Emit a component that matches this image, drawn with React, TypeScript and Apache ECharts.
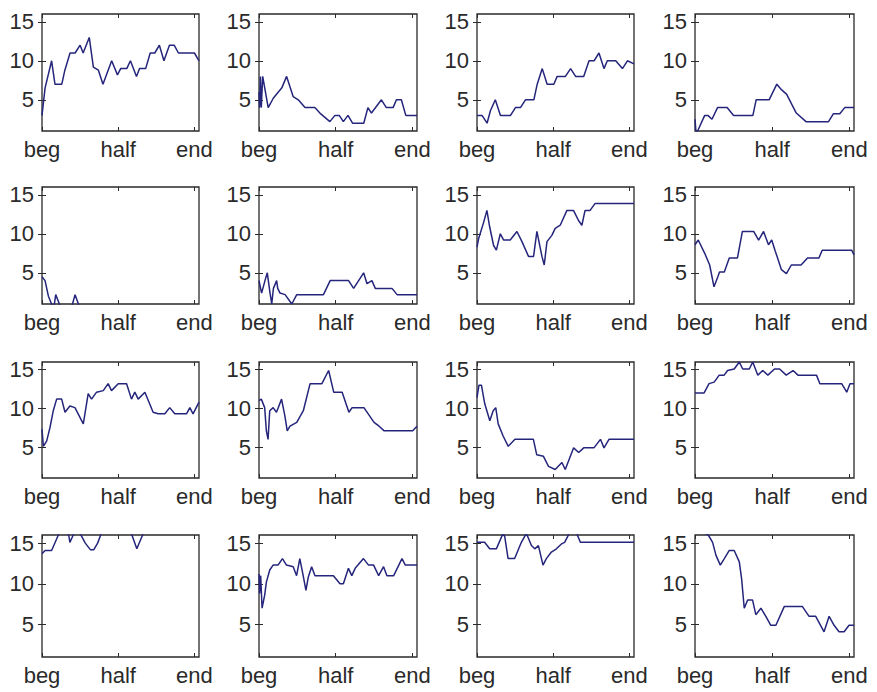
import React, { useEffect, useRef } from 'react';
import * as echarts from 'echarts';

// Each trace is a list of [time index, value] points; time runs 0..103.
const trace1 = [[0,3],[2,6.5],[6.3,10],[8.5,7],[13,7],[15,8.8],[18.4,11],[21.7,11],[25,12],[27,11],[31,13],[33.7,9.2],[37,8.8],[40,7],[45.7,10],[49.5,8.2],[51.6,9],[55.6,9],[58,10],[62,8],[64,9],[68,9],[71,11],[74,11],[77,12],[80,10],[83.6,12],[86.7,12],[89.5,11],[100,11],[103,10]];
const trace2 = [[0,6],[0.4,4],[0.9,8],[1.5,4],[2.4,8],[6,4],[9.3,5.2],[12.6,6],[14.8,6.5],[18,8],[22.3,5.4],[25.6,5],[30,4],[36.4,4],[39.7,3.3],[46.2,2.2],[49.5,3],[52.3,3],[55,2.2],[58,3],[61,2],[68.3,2],[71,4],[73.3,3.3],[79.8,5],[83,4],[87.4,4],[89.6,5],[92.8,5],[95.7,3],[103,3]];
const trace3 = [[0,3],[3.3,3],[6.6,2],[8.8,3.6],[12,5],[15.4,3],[22,3],[25.2,4],[28.5,4],[31.8,5],[37.3,5],[39.5,7],[42.8,9],[46,7],[50.4,7],[52.6,8],[58,8],[61.4,9],[64.7,8],[70,8],[73.5,10],[76.8,10],[80,11],[83.3,9],[85.5,10],[91,10],[95.4,9],[98.7,10],[103,9.6]];
const trace4 = [[0,2.5],[0.6,1],[1.7,1],[6.3,3],[8.3,3],[11,2.5],[14.6,4],[20.8,4],[25,3],[37.5,3],[39.6,5],[48,5],[53,7],[56,6.3],[59.4,5.7],[65.6,3.3],[71.9,2.2],[86.5,2.2],[89.6,3.2],[93.8,3.2],[97,4],[103,4]];
const trace5 = [[0,4.5],[2,4],[4.2,2],[6.3,1],[7.4,0],[9,2.2],[11.4,1],[12.5,0],[18.4,0],[20,1],[21.7,2.2],[23.9,1],[25,0],[103,0]];
const trace6 = [[0,4],[1.7,2.4],[3.9,4],[5.4,5],[7.2,2.4],[8.3,1],[9.4,3],[11.5,4],[12.2,3],[13.7,2.4],[17,2.2],[21.4,1],[24.6,2.2],[42,2.2],[46.4,4],[58.4,4],[61.7,3],[68.2,5],[70.4,3.6],[73.6,4],[75.8,3],[86.7,3],[90,2.2],[103,2.2]];
const trace7 = [[0,8.3],[1.1,9.4],[4.4,11.5],[6.5,13],[8.3,10.9],[10.9,8.5],[12.7,7.9],[15.3,10],[17.5,9.2],[21.8,9.2],[26.2,10.3],[29.5,9],[33.8,7.1],[37.1,7.1],[39.3,10.3],[42.6,7.1],[44.1,6],[45.9,9],[49.1,9.8],[51.3,10.7],[54.6,11.1],[59,13],[63.3,13],[66.6,11.7],[68.8,11.1],[70.9,13],[74.2,13],[77.5,13.9],[103,13.9]];
const trace8 = [[0,8.6],[2.1,9.2],[6.3,7.5],[9.5,6],[12.3,3.2],[14.8,4.5],[15.9,5.1],[19,5.1],[22.2,6.9],[27.5,6.9],[30.7,10.3],[38,10.3],[41.2,9.2],[44.4,10.3],[47.6,8.6],[49.7,9.2],[51.8,7.9],[56,5.4],[59.2,4.9],[62.4,6],[68.7,6],[72.9,6.9],[80.3,6.9],[82.4,7.9],[101.5,7.9],[103,7.3]];
const trace9 = [[0,7.3],[0.9,5.1],[3.1,5.8],[5.2,7.5],[7.4,9.7],[9.6,11.2],[12.9,11.2],[15.1,9.5],[18.3,10.3],[21.6,10.1],[27.1,8],[30.3,11.9],[32.5,11.2],[35.8,12.1],[40.2,12.3],[43.4,13.2],[45.6,12.3],[50,13.2],[55.5,13.2],[58.7,11.2],[60.9,12.1],[63.1,11.2],[67.5,12.1],[72.9,9.5],[76.2,9.3],[80.6,9.3],[83.8,10.1],[87.1,9.3],[94.8,9.3],[97,10.1],[99.1,9.3],[103,10.8]];
const trace10 = [[0,11],[1.5,11.2],[3.7,10.1],[4.8,7.1],[5.9,6],[7,9.7],[9.2,10.1],[11.4,9.5],[14.7,11.2],[16.9,9],[18.4,7.1],[20.2,7.7],[24.6,8.2],[28.9,9.7],[33.3,13.2],[41,13.2],[45.4,14.9],[48.7,12.1],[54.2,12.1],[58.6,9.5],[60.7,10.1],[68.4,10.1],[75,8.2],[78.3,7.7],[81.6,7.1],[100.2,7.1],[103,7.7]];
const trace11 = [[0,11.4],[1.3,13],[2.9,13],[5.1,10.6],[8.4,8.4],[10.6,9.7],[12.3,10.1],[13.9,8],[17.2,6.4],[20.5,5.1],[24.9,6],[37,6],[39.2,4],[43.6,3.8],[46.9,2.5],[51.3,2.1],[55.7,3],[57.9,2.1],[63.4,4.9],[66.7,4.3],[70,4.9],[76.7,4.9],[81,6],[83.3,4.9],[86.6,6],[103,6]];
const trace12 = [[0,12],[5.9,12],[9.1,13.2],[12.4,13.4],[15.7,14.3],[18.9,14.3],[21.1,14.9],[25.4,15.1],[28.7,16],[30.9,15.1],[35.2,15.1],[37.4,16],[40.7,14.3],[43.9,14.9],[47.2,14.3],[51.5,15.1],[54.8,15.1],[59.1,14.3],[63.5,14.9],[66.7,14.3],[78.7,14.3],[80.9,13.2],[95,13.2],[98.3,12.1],[100.4,13.2],[103,13.2]];
const trace13 = [[0,13.7],[2,14.1],[6.3,14.1],[9.6,15.5],[11.8,16.5],[15,16.5],[17.5,16],[18.3,15.1],[20.5,16],[22,16.5],[25,16.2],[28.4,15],[31.7,14.2],[34,14.2],[36.5,15],[39.5,16.5],[57,16.5],[59,16],[62.2,14.3],[66,16],[68,17],[103,17]];
const trace14 = [[0,11.2],[0.4,8.8],[1.1,11],[2,7],[3.7,8.6],[4.8,10.2],[7,11.7],[9.2,12.3],[12.4,12.3],[15.3,13.1],[17.9,12.3],[22.3,12.1],[24.5,11],[26.6,13.1],[28.8,11],[30.6,9.2],[32.1,10.8],[34.3,12.1],[36.5,11],[48.5,11],[52.8,10],[55,10],[58.3,11.9],[60.5,11],[62.7,11.9],[68.1,13.1],[71.4,12.3],[74.7,12.3],[78,11],[81.2,12.1],[83.4,11],[87.8,11],[93.2,13.1],[95.4,12.3],[103,12.3]];
const trace15 = [[0,15.1],[5,15.1],[8.3,14.3],[12.7,14.3],[17.1,16.2],[18.2,15.8],[20.4,13.1],[24.7,13.1],[29.1,15.1],[32.4,16.2],[35.7,14.7],[37.9,14.3],[40.3,14.7],[43.3,12.3],[45.5,13.1],[48.8,13.9],[52.1,14.3],[55.4,14.9],[57.5,15.1],[60.8,16.3],[65.2,16.3],[67.8,15.1],[103,15.1]];
const trace16 = [[0,16.8],[8.6,16],[11.4,15.1],[13.6,13.5],[16.4,12.3],[19,13.1],[22.2,14.1],[25.4,14.1],[28.7,12.7],[30.2,10.6],[31.9,7],[34.1,8],[37.3,8],[39.4,6.2],[42.7,7],[45.9,6],[49.1,4.9],[52.4,4.9],[57.8,7.2],[69.6,7.2],[73.9,6],[78.2,6],[83.6,4.1],[86.9,6],[90.1,4.9],[93.3,4.1],[96.6,4.1],[99.8,4.9],[103,4.9]];

const TRACES = [
  trace1, trace2, trace3, trace4,
  trace5, trace6, trace7, trace8,
  trace9, trace10, trace11, trace12,
  trace13, trace14, trace15, trace16,
];

const X_TICKS = [0, 50, 100];
const X_TICK_LABELS = ['beg', 'half', 'end'];
const Y_TICKS = [5, 10, 15];
const X_RANGE = [0, 103];
const Y_RANGE = [1, 16];

// Subplot placement (pixels)
const COL_LEFT = [42, 259, 477, 695];
const COL_WIDTH = [157, 158, 157, 159];
const ROW_TOP = [14, 187, 362, 535];
const ROW_HEIGHT = [117, 117, 116, 122];

const INK = '#2a2a2a';
const LINE_COLOR = '#25257c';
const FONT = '"Liberation Sans", Arial, sans-serif';

export default function App() {
  const ref = useRef<HTMLDivElement>(null);

  useEffect(() => {
    if (!ref.current) return;
    const chart = echarts.init(ref.current, null, { renderer: 'svg' });

    const grids: any[] = [];
    const xAxes: any[] = [];
    const yAxes: any[] = [];
    const series: any[] = [];

    const tick = (values: number[]) => ({
      show: true,
      inside: true,
      length: 4,
      customValues: values,
      lineStyle: { color: INK, width: 1 },
    });

    TRACES.forEach((data, i) => {
      const r = Math.floor(i / 4);
      const c = i % 4;
      grids.push({
        left: COL_LEFT[c],
        top: ROW_TOP[r],
        width: COL_WIDTH[c],
        height: ROW_HEIGHT[r],
        show: true,
        borderColor: INK,
        borderWidth: 1.3,
        backgroundColor: '#ffffff',
        containLabel: false,
      });

      const baseX = {
        type: 'value',
        gridIndex: i,
        min: X_RANGE[0],
        max: X_RANGE[1],
        axisLine: { show: false },
        splitLine: { show: false },
        axisTick: tick(X_TICKS),
      };
      xAxes.push({
        ...baseX,
        position: 'bottom',
        axisLabel: {
          customValues: X_TICKS,
          formatter: (v: number) => {
            const k = X_TICKS.indexOf(v);
            return k >= 0 ? X_TICK_LABELS[k] : '';
          },
          fontSize: 22,
          fontFamily: FONT,
          color: INK,
          margin: 7,
        },
      });
      xAxes.push({ ...baseX, position: 'top', axisLabel: { show: false } });

      const baseY = {
        type: 'value',
        gridIndex: i,
        min: Y_RANGE[0],
        max: Y_RANGE[1],
        axisLine: { show: false },
        splitLine: { show: false },
        axisTick: tick(Y_TICKS),
      };
      yAxes.push({
        ...baseY,
        position: 'left',
        axisLabel: {
          customValues: Y_TICKS,
          fontSize: 22,
          fontFamily: FONT,
          color: INK,
          margin: 8,
        },
      });
      yAxes.push({ ...baseY, position: 'right', axisLabel: { show: false } });

      series.push({
        type: 'line',
        xAxisIndex: 2 * i,
        yAxisIndex: 2 * i,
        data,
        symbol: 'none',
        showSymbol: false,
        clip: true,
        lineStyle: { color: LINE_COLOR, width: 1.5 },
      });
    });

    chart.setOption({
      animation: false,
      backgroundColor: '#ffffff',
      grid: grids,
      xAxis: xAxes,
      yAxis: yAxes,
      series,
    });

    return () => chart.dispose();
  }, []);

  return (
    <div
      ref={ref}
      style={{ position: 'fixed', left: 0, top: 0, width: 877, height: 692, background: '#ffffff' }}
    />
  );
}
